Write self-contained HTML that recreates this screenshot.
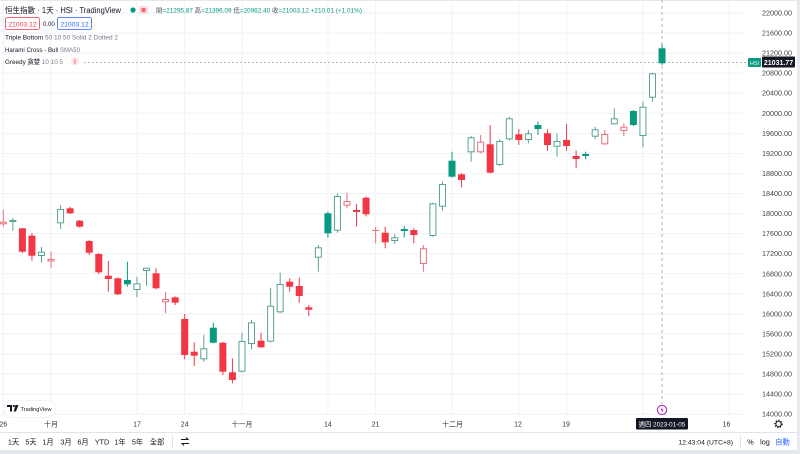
<!DOCTYPE html>
<html><head><meta charset="utf-8"><style>
html,body{margin:0;padding:0;background:#fff;width:800px;height:454px;overflow:hidden}
svg{display:block;font-family:"Liberation Sans","Noto Sans CJK TC",sans-serif}
.gl{stroke:#eff2f7;stroke-width:1}
.R line{stroke:#f23645}.R rect{fill:#f23645}
.G line{stroke:#089981}.G rect{fill:#089981}
.HG line{stroke:#5aa394}.HG rect{fill:#fff;stroke:#5aa394}
.HR line{stroke:#e8707a}.HR rect{fill:#fff;stroke:#e8707a}
line{stroke-width:1}
.pl{font-size:7.2px;fill:#444;text-anchor:end}
.tl{font-size:7px;fill:#333;text-anchor:middle}
.tb{font-size:7.3px;fill:#131722;text-anchor:middle}
</style></head><body>
<svg width="800" height="454" viewBox="0 0 800 454" xmlns="http://www.w3.org/2000/svg">
<rect width="800" height="454" fill="#fff"/>
<line x1="0" y1="0.5" x2="800" y2="0.5" stroke="#e6e8ee"/>
<g class="gl">
<line x1="0" x2="746" y1="13" y2="13"/><line x1="0" x2="746" y1="33.06" y2="33.06"/><line x1="0" x2="746" y1="53.12" y2="53.12"/><line x1="0" x2="746" y1="73.18" y2="73.18"/><line x1="0" x2="746" y1="93.24" y2="93.24"/><line x1="0" x2="746" y1="113.3" y2="113.3"/><line x1="0" x2="746" y1="133.36" y2="133.36"/><line x1="0" x2="746" y1="153.42" y2="153.42"/><line x1="0" x2="746" y1="173.48" y2="173.48"/><line x1="0" x2="746" y1="193.54" y2="193.54"/><line x1="0" x2="746" y1="213.6" y2="213.6"/><line x1="0" x2="746" y1="233.66" y2="233.66"/><line x1="0" x2="746" y1="253.72" y2="253.72"/><line x1="0" x2="746" y1="273.78" y2="273.78"/><line x1="0" x2="746" y1="293.84" y2="293.84"/><line x1="0" x2="746" y1="313.9" y2="313.9"/><line x1="0" x2="746" y1="333.96" y2="333.96"/><line x1="0" x2="746" y1="354.02" y2="354.02"/><line x1="0" x2="746" y1="374.08" y2="374.08"/><line x1="0" x2="746" y1="394.14" y2="394.14"/><line x1="0" x2="746" y1="414.2" y2="414.2"/>
</g>
<g class="gl">
<line y1="0" y2="414" x1="3.3" x2="3.3"/><line y1="0" y2="414" x1="51" x2="51"/><line y1="0" y2="414" x1="137" x2="137"/><line y1="0" y2="414" x1="184.7" x2="184.7"/><line y1="0" y2="414" x1="242" x2="242"/><line y1="0" y2="414" x1="327.9" x2="327.9"/><line y1="0" y2="414" x1="375.6" x2="375.6"/><line y1="0" y2="414" x1="452" x2="452"/><line y1="0" y2="414" x1="518.8" x2="518.8"/><line y1="0" y2="414" x1="566.6" x2="566.6"/><line y1="0" y2="414" x1="642.9" x2="642.9"/><line y1="0" y2="414" x1="728.9" x2="728.9"/>
</g>

<line x1="84" y1="62.5" x2="748" y2="62.5" stroke="#b4b8bf" stroke-dasharray="2 2"/>
<line x1="662" y1="0" x2="662" y2="404" stroke="#aeb1b8" stroke-dasharray="3 3"/>

<g class="HR" transform="translate(3.3)"><line x1="0" x2="0" y1="210" y2="226.7"/><rect x="-3" width="6" y="222.2" height="1.6"/></g>
<g class="HG" transform="translate(12.85)"><line x1="0" x2="0" y1="218" y2="230.7"/><rect x="-3" width="6" y="220.5" height="1"/></g>
<g class="R" transform="translate(22.39)"><line x1="0" x2="0" y1="228" y2="253"/><rect x="-3.5" width="7" y="228.3" height="23.4"/></g>
<g class="R" transform="translate(31.94)"><line x1="0" x2="0" y1="233" y2="260.7"/><rect x="-3.5" width="7" y="235.7" height="20"/></g>
<g class="HG" transform="translate(41.49)"><line x1="0" x2="0" y1="247" y2="262.7"/><rect x="-3" width="6" y="252.2" height="3.3"/></g>
<g class="HR" transform="translate(51.04)"><line x1="0" x2="0" y1="251.7" y2="268.3"/><rect x="-3" width="6" y="259.5" height="1.5"/></g>
<g class="HG" transform="translate(60.58)"><line x1="0" x2="0" y1="205" y2="229"/><rect x="-3" width="6" y="209.5" height="13.3"/></g>
<g class="R" transform="translate(70.13)"><line x1="0" x2="0" y1="206.7" y2="214"/><rect x="-3.5" width="7" y="208.3" height="5"/></g>
<g class="R" transform="translate(79.68)"><line x1="0" x2="0" y1="220" y2="227.5"/><rect x="-3.5" width="7" y="220.7" height="6"/></g>
<g class="R" transform="translate(89.22)"><line x1="0" x2="0" y1="240" y2="255"/><rect x="-3.5" width="7" y="241" height="11.7"/></g>
<g class="R" transform="translate(98.77)"><line x1="0" x2="0" y1="253" y2="274"/><rect x="-3.5" width="7" y="254" height="18.3"/></g>
<g class="R" transform="translate(108.32)"><line x1="0" x2="0" y1="261" y2="291.7"/><rect x="-3.5" width="7" y="275.7" height="3.3"/></g>
<g class="R" transform="translate(117.86)"><line x1="0" x2="0" y1="277.3" y2="295"/><rect x="-3.5" width="7" y="278.3" height="16"/></g>
<g class="G" transform="translate(127.41)"><line x1="0" x2="0" y1="261.7" y2="286.7"/><rect x="-3.5" width="7" y="280" height="4.3"/></g>
<g class="HG" transform="translate(136.96)"><line x1="0" x2="0" y1="276.7" y2="297.3"/><rect x="-3" width="6" y="283.8" height="5.7"/></g>
<g class="HG" transform="translate(146.5)"><line x1="0" x2="0" y1="267.7" y2="285.7"/><rect x="-3" width="6" y="268.2" height="2.3"/></g>
<g class="R" transform="translate(156.05)"><line x1="0" x2="0" y1="268.3" y2="289.3"/><rect x="-3.5" width="7" y="273.3" height="15"/></g>
<g class="HR" transform="translate(165.6)"><line x1="0" x2="0" y1="291.7" y2="313.3"/><rect x="-3" width="6" y="299.5" height="2.3"/></g>
<g class="R" transform="translate(175.15)"><line x1="0" x2="0" y1="296.5" y2="305"/><rect x="-3.5" width="7" y="297.3" height="5.4"/></g>
<g class="R" transform="translate(184.69)"><line x1="0" x2="0" y1="314" y2="359.3"/><rect x="-3.5" width="7" y="319" height="36"/></g>
<g class="R" transform="translate(194.24)"><line x1="0" x2="0" y1="342.3" y2="366"/><rect x="-3.5" width="7" y="351.7" height="4"/></g>
<g class="HG" transform="translate(203.79)"><line x1="0" x2="0" y1="335" y2="361.7"/><rect x="-3" width="6" y="348.8" height="10"/></g>
<g class="G" transform="translate(213.33)"><line x1="0" x2="0" y1="322.7" y2="343.3"/><rect x="-3.5" width="7" y="327.7" height="15"/></g>
<g class="R" transform="translate(222.88)"><line x1="0" x2="0" y1="342" y2="375"/><rect x="-3.5" width="7" y="342.7" height="29"/></g>
<g class="R" transform="translate(232.43)"><line x1="0" x2="0" y1="358.3" y2="383.3"/><rect x="-3.5" width="7" y="372.3" height="7.7"/></g>
<g class="HG" transform="translate(241.97)"><line x1="0" x2="0" y1="332.7" y2="372.7"/><rect x="-3" width="6" y="341.5" height="29.7"/></g>
<g class="HG" transform="translate(251.52)"><line x1="0" x2="0" y1="320" y2="349.3"/><rect x="-3" width="6" y="322.8" height="20.7"/></g>
<g class="R" transform="translate(261.07)"><line x1="0" x2="0" y1="332.7" y2="347.7"/><rect x="-3.5" width="7" y="340.7" height="6.6"/></g>
<g class="HG" transform="translate(270.61)"><line x1="0" x2="0" y1="287.7" y2="342.3"/><rect x="-3" width="6" y="306.2" height="35"/></g>
<g class="HG" transform="translate(280.16)"><line x1="0" x2="0" y1="272.7" y2="313.3"/><rect x="-3" width="6" y="284.5" height="27.3"/></g>
<g class="R" transform="translate(289.71)"><line x1="0" x2="0" y1="278.3" y2="291.7"/><rect x="-3.5" width="7" y="281.7" height="5"/></g>
<g class="R" transform="translate(299.26)"><line x1="0" x2="0" y1="277.7" y2="302.7"/><rect x="-3.5" width="7" y="286" height="10"/></g>
<g class="R" transform="translate(308.8)"><line x1="0" x2="0" y1="305" y2="316"/><rect x="-3.5" width="7" y="307.3" height="2.4"/></g>
<g class="HG" transform="translate(318.35)"><line x1="0" x2="0" y1="245" y2="271.7"/><rect x="-3" width="6" y="247.8" height="9.4"/></g>
<g class="G" transform="translate(327.9)"><line x1="0" x2="0" y1="211.7" y2="237.7"/><rect x="-3.5" width="7" y="213.3" height="20"/></g>
<g class="HG" transform="translate(337.44)"><line x1="0" x2="0" y1="193.3" y2="232.7"/><rect x="-3" width="6" y="196.5" height="33.7"/></g>
<g class="HR" transform="translate(346.99)"><line x1="0" x2="0" y1="192.7" y2="208.3"/><rect x="-3" width="6" y="201.5" height="3.7"/></g>
<g class="R" transform="translate(356.54)"><line x1="0" x2="0" y1="204" y2="226.7"/><rect x="-3.5" width="7" y="210" height="2"/></g>
<g class="R" transform="translate(366.08)"><line x1="0" x2="0" y1="196.7" y2="216.5"/><rect x="-3.5" width="7" y="197.7" height="16.6"/></g>
<g class="HR" transform="translate(375.63)"><line x1="0" x2="0" y1="226.7" y2="243.3"/><rect x="-3.5" width="7" y="230" height="1" style="fill:#e8707a;stroke:none"/></g>
<g class="R" transform="translate(385.18)"><line x1="0" x2="0" y1="226.7" y2="248.3"/><rect x="-3.5" width="7" y="232.7" height="9.6"/></g>
<g class="HG" transform="translate(394.72)"><line x1="0" x2="0" y1="234" y2="244"/><rect x="-3" width="6" y="237.8" height="2.7"/></g>
<g class="G" transform="translate(404.27)"><line x1="0" x2="0" y1="226" y2="237.3"/><rect x="-3.5" width="7" y="229" height="2"/></g>
<g class="R" transform="translate(413.82)"><line x1="0" x2="0" y1="228.3" y2="243.3"/><rect x="-3.5" width="7" y="230" height="5"/></g>
<g class="HR" transform="translate(423.37)"><line x1="0" x2="0" y1="245" y2="271.7"/><rect x="-3" width="6" y="248.8" height="14.7"/></g>
<g class="HG" transform="translate(432.91)"><line x1="0" x2="0" y1="202.7" y2="236.7"/><rect x="-3" width="6" y="203.8" height="31.7"/></g>
<g class="HG" transform="translate(442.46)"><line x1="0" x2="0" y1="181.7" y2="210.7"/><rect x="-3" width="6" y="184.5" height="21.7"/></g>
<g class="G" transform="translate(452.01)"><line x1="0" x2="0" y1="151.7" y2="177.7"/><rect x="-3.5" width="7" y="160.7" height="16"/></g>
<g class="R" transform="translate(461.55)"><line x1="0" x2="0" y1="173.3" y2="187.3"/><rect x="-3.5" width="7" y="174.3" height="5.7"/></g>
<g class="HG" transform="translate(471.1)"><line x1="0" x2="0" y1="136" y2="161.7"/><rect x="-3" width="6" y="137.8" height="14"/></g>
<g class="HR" transform="translate(480.65)"><line x1="0" x2="0" y1="135" y2="153.3"/><rect x="-3" width="6" y="142.2" height="9.6"/></g>
<g class="R" transform="translate(490.19)"><line x1="0" x2="0" y1="125" y2="173.3"/><rect x="-3.5" width="7" y="144.3" height="28.4"/></g>
<g class="HG" transform="translate(499.74)"><line x1="0" x2="0" y1="139.3" y2="166"/><rect x="-3" width="6" y="141.5" height="23"/></g>
<g class="HG" transform="translate(509.29)"><line x1="0" x2="0" y1="116.7" y2="140.7"/><rect x="-3" width="6" y="118.8" height="20"/></g>
<g class="R" transform="translate(518.83)"><line x1="0" x2="0" y1="129" y2="145"/><rect x="-3.5" width="7" y="134.3" height="5.7"/></g>
<g class="HG" transform="translate(528.38)"><line x1="0" x2="0" y1="130" y2="143.3"/><rect x="-3" width="6" y="133.8" height="5.7"/></g>
<g class="G" transform="translate(537.93)"><line x1="0" x2="0" y1="121.7" y2="135"/><rect x="-3.5" width="7" y="125" height="4"/></g>
<g class="R" transform="translate(547.48)"><line x1="0" x2="0" y1="129.3" y2="150.7"/><rect x="-3.5" width="7" y="133.3" height="11.7"/></g>
<g class="HG" transform="translate(557.02)"><line x1="0" x2="0" y1="133.3" y2="156.7"/><rect x="-3" width="6" y="141.5" height="4.7"/></g>
<g class="R" transform="translate(566.57)"><line x1="0" x2="0" y1="124" y2="150.7"/><rect x="-3.5" width="7" y="140" height="6"/></g>
<g class="R" transform="translate(576.12)"><line x1="0" x2="0" y1="150.7" y2="168.3"/><rect x="-3.5" width="7" y="156" height="3"/></g>
<g class="G" transform="translate(585.66)"><line x1="0" x2="0" y1="151.7" y2="159.3"/><rect x="-3.5" width="7" y="154" height="2"/></g>
<g class="HG" transform="translate(595.21)"><line x1="0" x2="0" y1="126.7" y2="139.3"/><rect x="-3" width="6" y="129.8" height="6.4"/></g>
<g class="HR" transform="translate(604.76)"><line x1="0" x2="0" y1="130" y2="145"/><rect x="-3" width="6" y="134.5" height="9.3"/></g>
<g class="HG" transform="translate(614.3)"><line x1="0" x2="0" y1="108.3" y2="124.3"/><rect x="-3" width="6" y="118.8" height="5"/></g>
<g class="HR" transform="translate(623.85)"><line x1="0" x2="0" y1="123.3" y2="136"/><rect x="-3" width="6" y="127.2" height="3.3"/></g>
<g class="G" transform="translate(633.4)"><line x1="0" x2="0" y1="110" y2="126"/><rect x="-3.5" width="7" y="111" height="14"/></g>
<g class="HG" transform="translate(642.94)"><line x1="0" x2="0" y1="101.7" y2="147.3"/><rect x="-3" width="6" y="107.2" height="28.3"/></g>
<g class="HG" transform="translate(652.49)"><line x1="0" x2="0" y1="72.7" y2="101.7"/><rect x="-3" width="6" y="73.8" height="23.4"/></g>
<g class="G" transform="translate(662.04)"><line x1="0" x2="0" y1="44" y2="65"/><rect x="-3.5" width="7" y="48.3" height="15"/></g>

<text class="pl" x="792" y="15.5">22000.00</text>
<text class="pl" x="792" y="35.56">21600.00</text>
<text class="pl" x="792" y="55.62">21200.00</text>
<text class="pl" x="792" y="75.68">20800.00</text>
<text class="pl" x="792" y="95.74">20400.00</text>
<text class="pl" x="792" y="115.8">20000.00</text>
<text class="pl" x="792" y="135.86">19600.00</text>
<text class="pl" x="792" y="155.92">19200.00</text>
<text class="pl" x="792" y="175.98">18800.00</text>
<text class="pl" x="792" y="196.04">18400.00</text>
<text class="pl" x="792" y="216.1">18000.00</text>
<text class="pl" x="792" y="236.16">17600.00</text>
<text class="pl" x="792" y="256.22">17200.00</text>
<text class="pl" x="792" y="276.28">16800.00</text>
<text class="pl" x="792" y="296.34">16400.00</text>
<text class="pl" x="792" y="316.4">16000.00</text>
<text class="pl" x="792" y="336.46">15600.00</text>
<text class="pl" x="792" y="356.52">15200.00</text>
<text class="pl" x="792" y="376.58">14800.00</text>
<text class="pl" x="792" y="396.64">14400.00</text>
<text class="pl" x="792" y="416.7">14000.00</text>

<rect x="748" y="58" width="13" height="9" rx="1" fill="#089981"/>
<text x="754.5" y="65" font-size="5.5" fill="#fff" text-anchor="middle">HSI</text>
<rect x="762" y="56.5" width="33" height="11" rx="1" fill="#131722"/>
<text x="778.5" y="64.8" font-size="7" font-weight="bold" fill="#fff" text-anchor="middle">21031.77</text>

<text x="5" y="13" font-size="8" fill="#131722" textLength="116" lengthAdjust="spacingAndGlyphs">恒生指數 · 1天 · HSI · TradingView</text>
<circle cx="133" cy="10" r="2.6" fill="#089981"/>
<rect x="139" y="6" width="9" height="8" rx="2" fill="#fbdde1"/>
<rect x="141.5" y="8" width="4" height="4" fill="#f23645" opacity="0.7"/>
<text x="156" y="12.5" font-size="6.5" textLength="206" lengthAdjust="spacingAndGlyphs"><tspan fill="#555">開</tspan><tspan fill="#089981">=21295.87 </tspan><tspan fill="#555">高</tspan><tspan fill="#089981">=21396.09 </tspan><tspan fill="#555">低</tspan><tspan fill="#089981">=20962.40 </tspan><tspan fill="#555">收</tspan><tspan fill="#089981">=21003.12 +210.01 (+1.01%)</tspan></text>

<rect x="5.5" y="17.5" width="34" height="12" rx="2" fill="#fff" stroke="#f23645" stroke-width="0.8"/>
<text x="22.5" y="26.3" font-size="6.8" fill="#f23645" text-anchor="middle">21003.12</text>
<text x="43" y="26" font-size="6" fill="#131722">0.00</text>
<rect x="57.5" y="17.5" width="34" height="12" rx="2" fill="#fff" stroke="#2962ff" stroke-width="0.8"/>
<text x="74.5" y="26.3" font-size="6.8" fill="#2962ff" text-anchor="middle">21003.12</text>

<text x="5" y="39.5" font-size="6.6" textLength="113" lengthAdjust="spacingAndGlyphs"><tspan fill="#131722">Triple Bottom</tspan><tspan fill="#787b86"> 50 10 50 Solid 2 Dotted 2</tspan></text>
<text x="5" y="52" font-size="6.6" textLength="75" lengthAdjust="spacingAndGlyphs"><tspan fill="#131722">Harami Cross - Bull</tspan><tspan fill="#787b86"> SMA50</tspan></text>
<text x="5" y="64" font-size="6.6" textLength="58" lengthAdjust="spacingAndGlyphs"><tspan fill="#131722">Greedy 貪婪</tspan><tspan fill="#787b86"> 10 10 5</tspan></text>
<circle cx="75" cy="61.3" r="4" fill="#fde4e7"/>
<text x="75" y="63.8" font-size="6.5" font-weight="bold" fill="#f23645" text-anchor="middle">!</text>

<rect x="3.5" y="400.5" width="52" height="17" rx="8.5" fill="#fff" stroke="#f0f2f5"/>
<path d="M7 405 h5 v6.5 h-2 v-4.5 h-3z" fill="#131722"/>
<circle cx="13.8" cy="406" r="1.1" fill="#131722"/>
<path d="M15.5 405 h3 l-2.6 6.5 h-2.2z" fill="#131722"/>
<text x="20.5" y="410.8" font-size="5.6" fill="#131722" textLength="31" lengthAdjust="spacingAndGlyphs">TradingView</text>

<circle cx="662" cy="410" r="4.6" fill="#fff" stroke="#9c27b0" stroke-width="1"/>
<path d="M662.8 406.8 l-2.3 3.6 h1.8 l-1 2.8 l2.4 -3.7 h-1.8z" fill="#9c27b0"/>

<text class="tl" x="3.3" y="426.5">26</text>
<text class="tl" x="51" y="426.5">十月</text>
<text class="tl" x="137" y="426.5">17</text>
<text class="tl" x="184.7" y="426.5">24</text>
<text class="tl" x="242" y="426.5">十一月</text>
<text class="tl" x="327.9" y="426.5">14</text>
<text class="tl" x="375.6" y="426.5">21</text>
<text class="tl" x="452.5" y="426.5">十二月</text>
<text class="tl" x="518" y="426.5">12</text>
<text class="tl" x="566" y="426.5">19</text>
<text class="tl" x="726.5" y="426.5">16</text>
<rect x="636" y="418" width="52" height="11.5" rx="1" fill="#131722"/>
<text x="662" y="426.3" font-size="6.3" fill="#fff" text-anchor="middle">週四 2023-01-05</text>
<circle cx="778.5" cy="424" r="3.4" fill="none" stroke="#131722" stroke-width="1.6" stroke-dasharray="1.3 1.3"/>
<circle cx="778.5" cy="424" r="2.6" fill="#fff" stroke="#131722" stroke-width="0.8"/>

<line x1="0" y1="432.5" x2="797" y2="432.5" stroke="#e0e3eb"/>
<text class="tb" x="13.5" y="444.5">1天</text>
<text class="tb" x="31" y="444.5">5天</text>
<text class="tb" x="48" y="444.5">1月</text>
<text class="tb" x="66" y="444.5">3月</text>
<text class="tb" x="83" y="444.5">6月</text>
<text class="tb" x="102" y="444.5">YTD</text>
<text class="tb" x="120" y="444.5">1年</text>
<text class="tb" x="137.5" y="444.5">5年</text>
<text class="tb" x="157" y="444.5">全部</text>
<line x1="172.5" y1="436" x2="172.5" y2="448" stroke="#e0e3eb"/>
<path d="M181 439.5 h7 l-2 -2 M189 443.5 h-7 l2 2" fill="none" stroke="#131722" stroke-width="1"/>
<text x="733" y="444.5" font-size="6.8" fill="#131722" text-anchor="end">12:43:04 (UTC+8)</text>
<line x1="740.5" y1="436" x2="740.5" y2="448" stroke="#e0e3eb"/>
<text class="tb" x="750.5" y="444.5">%</text>
<text class="tb" x="765" y="444.5">log</text>
<text class="tb" x="782.5" y="444.5" style="fill:#2962ff">自動</text>

<rect x="0" y="450" width="800" height="4" fill="#e4e7ed"/>
<rect x="797" y="0" width="3" height="454" fill="#e8eaef"/>
</svg>
</body></html>
